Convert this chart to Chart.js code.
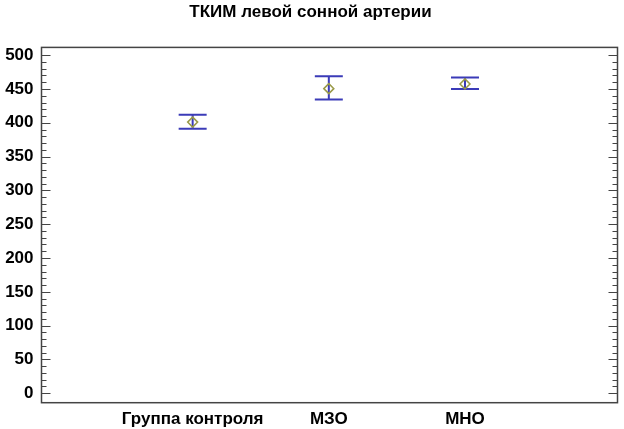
<!DOCTYPE html>
<html>
<head>
<meta charset="utf-8">
<script src="https://cdn.jsdelivr.net/npm/chart.js@4.4.0/dist/chart.umd.min.js"></script>
<style>
  html, body { margin: 0; padding: 0; background: #ffffff; }
  #wrap { width: 624px; height: 429px; }
</style>
</head>
<body>
<div id="wrap"><canvas id="c" width="624" height="429"></canvas></div>
<script>
// ---- Data ----
const categories = ['Группа контроля', 'МЗО', 'МНО'];
const means = [401, 450.5, 457.5];
const lower = [391, 434.5, 450];
const upper = [412, 469, 467];
const yTicks = [0, 50, 100, 150, 200, 250, 300, 350, 400, 450, 500];
const titleText = 'ТКИМ левой сонной артерии';

const FONT = '"Liberation Sans", Arial, sans-serif';
const catPos = categories.map((c, i) => i + 1);

const errorBars = {
  id: 'errorBars',
  beforeDatasetsDraw(chart) {
    const { ctx, scales: { x, y } } = chart;
    ctx.save();
    ctx.strokeStyle = '#3b3bb8';
    ctx.lineWidth = 2;
    const cap = 14;
    catPos.forEach((p, i) => {
      const px = x.getPixelForValue(p);
      const yt = y.getPixelForValue(upper[i]);
      const yb = y.getPixelForValue(lower[i]);
      ctx.beginPath();
      ctx.moveTo(px, yt); ctx.lineTo(px, yb);
      ctx.moveTo(px - cap, yt); ctx.lineTo(px + cap, yt);
      ctx.moveTo(px - cap, yb); ctx.lineTo(px + cap, yb);
      ctx.stroke();
    });
    ctx.restore();
  }
};

const frameTicks = {
  id: 'frameTicks',
  afterDraw(chart) {
    const { ctx, chartArea: a, scales: { y } } = chart;
    ctx.save();
    ctx.strokeStyle = '#444444';
    ctx.lineWidth = 1.5;
    ctx.strokeRect(a.left, a.top, a.right - a.left, a.bottom - a.top);
    ctx.lineWidth = 1.2;
    const minorPerMajor = 5;
    for (let k = 0; k < yTicks.length; k++) {
      const v0 = yTicks[k];
      const step = k + 1 < yTicks.length ? (yTicks[k + 1] - v0) / minorPerMajor : 0;
      const list = [v0];
      if (step) for (let m = 1; m < minorPerMajor; m++) list.push(v0 + m * step);
      list.forEach((v, j) => {
        const py = Math.round(y.getPixelForValue(v)) + 0.5;
        const len = j === 0 ? 9 : 5;
        ctx.beginPath();
        ctx.moveTo(a.left, py); ctx.lineTo(a.left + len, py);
        ctx.moveTo(a.right, py); ctx.lineTo(a.right - len, py);
        ctx.stroke();
      });
    }
    ctx.restore();
  }
};

new Chart(document.getElementById('c'), {
  type: 'scatter',
  data: {
    datasets: [{
      data: catPos.map((p, i) => ({ x: p, y: means[i] })),
      pointStyle: 'rectRot',
      pointRadius: 5,
      pointHoverRadius: 5,
      borderColor: '#9a9a48',
      backgroundColor: 'rgba(0,0,0,0)',
      borderWidth: 1.5,
      showLine: false
    }]
  },
  options: {
    responsive: false,
    animation: false,
    events: [],
    layout: { padding: { left: 0, right: 3, top: 0, bottom: 0 } },
    plugins: {
      legend: { display: false },
      tooltip: { enabled: false },
      title: {
        display: true,
        text: titleText,
        color: '#000000',
        font: { family: FONT, size: 17, weight: 'bold' },
        padding: { top: 2, bottom: 25 }
      }
    },
    scales: {
      x: {
        type: 'linear',
        min: -0.11,
        max: 4.12,
        grid: { display: false, drawTicks: false },
        border: { display: false },
        afterBuildTicks(s) { s.ticks = catPos.map(v => ({ value: v })); },
        afterFit(s) { s.height = 26.3; },
        ticks: {
          padding: 6,
          maxRotation: 0,
          autoSkip: false,
          color: '#000000',
          font: { family: FONT, size: 17, weight: 'bold' },
          callback: (v) => categories[catPos.indexOf(v)] || ''
        }
      },
      y: {
        min: -14,
        max: 511.5,
        grid: { display: false, drawTicks: false },
        border: { display: false },
        afterBuildTicks(s) { s.ticks = yTicks.map(v => ({ value: v })); },
        afterFit(s) { s.width = 41.5; },
        ticks: {
          padding: 8,
          color: '#000000',
          font: { family: FONT, size: 17, weight: 'bold' }
        }
      }
    }
  },
  plugins: [errorBars, frameTicks]
});
</script>
</body>
</html>
